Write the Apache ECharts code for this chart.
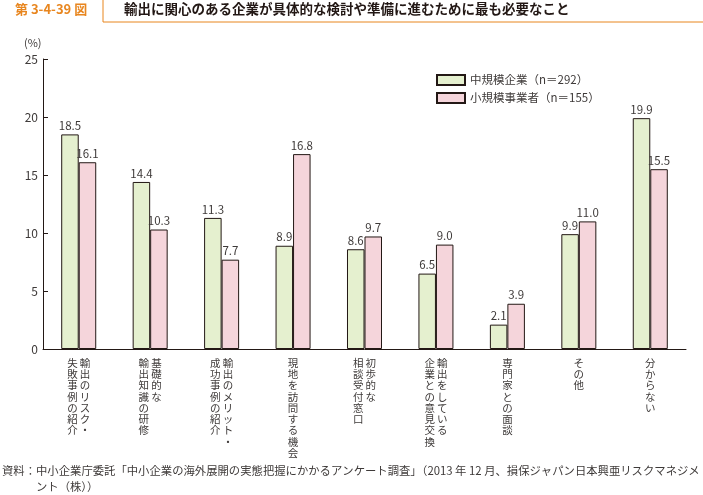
<!DOCTYPE html>
<html><head><meta charset="utf-8">
<script src="https://cdn.jsdelivr.net/npm/echarts@6/dist/echarts.min.js"></script>
<style>html,body{margin:0;padding:0;background:#fff}#c{width:703px;height:495px}</style>
</head><body><div id="c"></div>
<script>
// Category labels: columns separated by '\n' (first column = rightmost, vertical writing)
const categories = [
  '輸出のリスク・\n失敗事例の紹介',
  '基礎的な\n輸出知識の研修',
  '輸出のメリット・\n成功事例の紹介',
  '現地を訪問する機会',
  '初歩的な\n相談受付窓口',
  '輸出をしている\n企業との意見交換',
  '専門家との面談',
  'その他',
  '分からない'
];
const seriesNames = ['中規模企業（n＝292）', '小規模事業者（n＝155）'];
const mediumValues = [18.5, 14.4, 11.3, 8.9, 8.6, 6.5, 2.1, 9.9, 19.9];
const smallValues  = [16.1, 10.3, 7.7, 16.8, 9.7, 9.0, 3.9, 11.0, 15.5];
const yTicks = [0, 5, 10, 15, 20, 25];

function verticalText(s) {
  const cols = s.split('\n').map(c => Array.from(c));
  const n = Math.max(...cols.map(c => c.length));
  const lines = [];
  for (let i = 0; i < n; i++) {
    const row = [];
    for (let j = cols.length - 1; j >= 0; j--) row.push(cols[j][i] || '　');
    lines.push(row.join('\u2009'));
  }
  return lines.join('\n');
}

const jp = '"Noto Sans CJK JP", "Noto Sans", sans-serif';
const textColor = '#3e3a39';
const chart = echarts.init(document.getElementById('c'), null, {renderer: 'canvas'});
chart.setOption({
  animation: false,
  textStyle: {fontFamily: jp},
  grid: {left: 43, right: 17, top: 59, bottom: 146, containLabel: false},
  legend: {
    orient: 'vertical', left: 436, top: 74, padding: 0, itemWidth: 28, itemHeight: 10, itemGap: 6,
    icon: 'rect',
    textStyle: {fontSize: 11.5, color: textColor, fontFamily: jp},
    data: seriesNames
  },
  xAxis: {
    type: 'category', data: categories,
    axisLine: {lineStyle: {color: '#231815', width: 1}},
    axisTick: {inside: true, length: 5, lineStyle: {color: '#231815'}},
    axisLabel: {
      interval: 0, margin: 8, fontSize: 10.5, lineHeight: 11.3, color: textColor,
      verticalAlign: 'top', align: 'center',
      formatter: v => verticalText(v)
    }
  },
  yAxis: {
    type: 'value', min: 0, max: 25, interval: 5,
    axisLine: {show: true, lineStyle: {color: '#231815', width: 1}},
    axisTick: {show: true, inside: true, length: 5, lineStyle: {color: '#231815'}},
    splitLine: {show: false},
    axisLabel: {margin: 5, fontSize: 12, color: textColor,
      formatter: v => yTicks.includes(v) ? String(v) : ''}
  },
  series: [
    {
      name: seriesNames[0], type: 'bar', data: mediumValues,
      barGap: '0%', barCategoryGap: '51%',
      itemStyle: {color: '#e5f0cf', borderColor: '#231815', borderWidth: 1},
      label: {show: true, position: 'top', distance: 3, fontSize: 11.5, color: textColor,
        formatter: p => p.value.toFixed(1)}
    },
    {
      name: seriesNames[1], type: 'bar', data: smallValues,
      itemStyle: {color: '#f5d5db', borderColor: '#231815', borderWidth: 1},
      label: {show: true, position: 'top', distance: 3, fontSize: 11.5, color: textColor,
        formatter: p => p.value.toFixed(1)}
    }
  ],
  graphic: [
    {type: 'line', shape: {x1: 103, y1: 0, x2: 103, y2: 22}, style: {stroke: '#e8861f', lineWidth: 1}},
    {type: 'line', shape: {x1: 103, y1: 22, x2: 703, y2: 22}, style: {stroke: '#e8861f', lineWidth: 1}},
    {type: 'text', left: 15, top: 3, style: {text: '第 3-4-39 図', fontSize: 13, fontWeight: 'bold', fill: '#e8861f', fontFamily: jp}},
    {type: 'text', left: 124, top: 2, style: {text: '輸出に関心のある企業が具体的な検討や準備に進むために最も必要なこと', fontSize: 13.5, fontWeight: 'bold', fill: '#231815', fontFamily: jp}},
    {type: 'text', left: 24, top: 37, style: {text: '(%)', fontSize: 11, fill: textColor, fontFamily: jp}},
    {type: 'text', left: 2, top: 465, style: {text: '資料：中小企業庁委託「中小企業の海外展開の実態把握にかかるアンケート調査」（2013 年 12 月、損保ジャパン日本興亜リスクマネジメ', fontSize: 11.35, fill: textColor, fontFamily: jp}},
    {type: 'text', left: 36, top: 481, style: {text: 'ント（株））', fontSize: 11.35, fill: textColor, fontFamily: jp}}
  ]
});
</script></body></html>
